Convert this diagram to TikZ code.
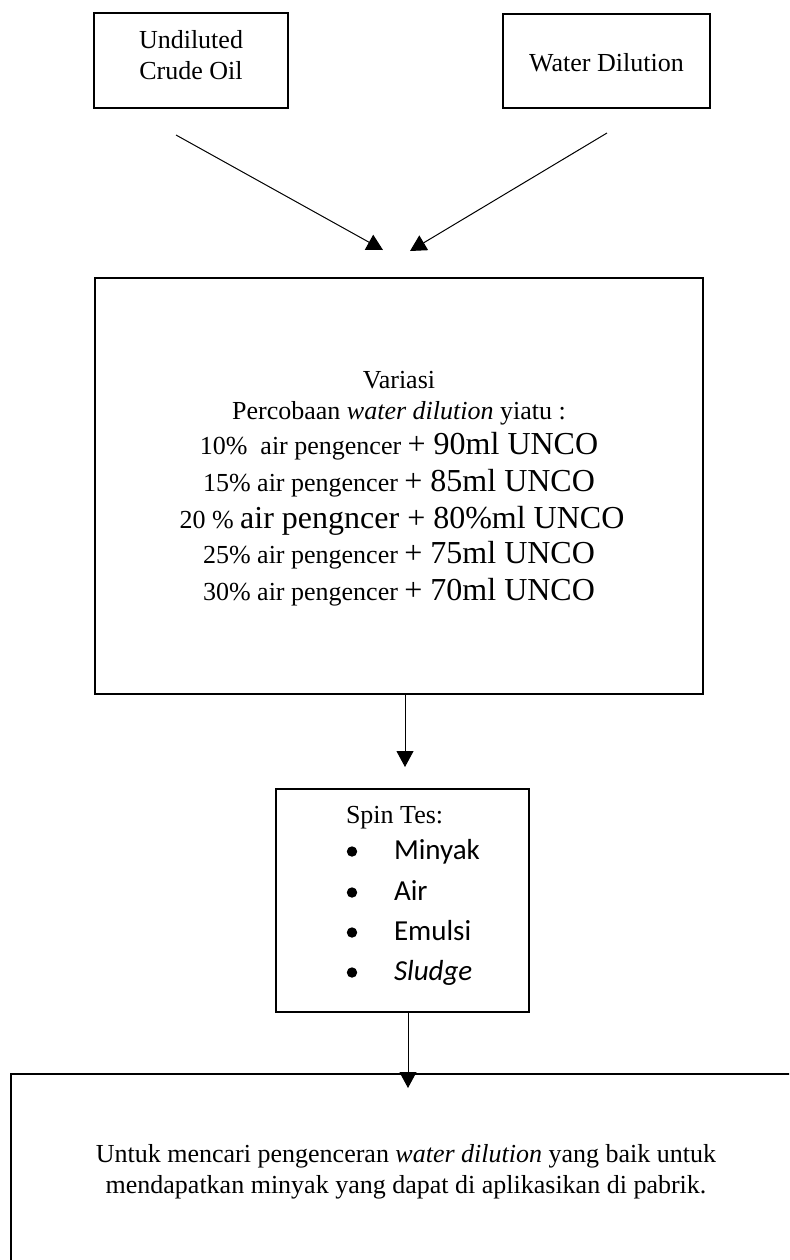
\documentclass[tikz,border=0pt]{standalone}
\usepackage{fontspec}
\setmainfont{Liberation Serif}
\newfontfamily\calibrifont{Carlito}
\usetikzlibrary{arrows.meta}
\begin{document}
\begin{tikzpicture}[x=0.5pt,y=-0.5pt,
  box/.style={draw, line width=1pt, inner sep=0pt, outer sep=0pt},
  arr/.style={line width=0.5pt, -{Triangle[length=8pt,width=8.5pt]}},
  txt/.style={anchor=base, inner sep=0pt, outer sep=0pt, font=\fontsize{13}{15.5}\selectfont},
  txtl/.style={txt, anchor=base west},
  item/.style={anchor=base west, inner sep=0pt, outer sep=0pt, font=\calibrifont\fontsize{14.5}{17}\selectfont}]
\useasboundingbox (0,0) rectangle (789,1260);
\clip (0,0) rectangle (789,1260);
\newcommand\bigtxt{\fontsize{16}{19}\selectfont}

% boxes
\node[box, minimum width=97pt, minimum height=47.5pt] (crude) at (191,60.5) {};
\node[box, minimum width=103.5pt, minimum height=47pt] (water) at (606.5,61) {};
\node[box, minimum width=304pt, minimum height=208pt] (main) at (399,486) {};
\node[box, minimum width=126.5pt, minimum height=111.5pt] (spin) at (402.5,900.5) {};
\node[box, minimum width=404.5pt, minimum height=113pt] (res) at (415.5,1187) {};

% top box texts
\node[txt] (c1) at (191,48) {Undiluted};
\node[txt] (c2) at (191,79) {Crude Oil};
\node[txt] (w1) at (606.5,71) {Water Dilution};

% main box texts
\node[txt] (m1) at (399,388) {Variasi};
\node[txt] (m2) at (399,419) {Percobaan \textit{water dilution} yiatu :};
\node[txt] (m3) at (399,454) {10\%\ \ air pengencer {\bigtxt + 90ml UNCO}};
\node[txt] (m4) at (399,491) {15\% air pengencer {\bigtxt + 85ml UNCO}};
\node[txt] (m5) at (402,528) {20 \% {\bigtxt air pengncer + 80\%ml UNCO}};
\node[txt] (m6) at (399,563) {25\% air pengencer {\bigtxt + 75ml UNCO}};
\node[txt] (m7) at (399,600) {30\% air pengencer {\bigtxt + 70ml UNCO}};

% spin box texts
\node[txtl] (s0) at (346,823) {Spin Tes:};
\node[item] (s1) at (394,859) {Minyak};
\node[item] (s2) at (394,900) {Air};
\node[item] (s3) at (394,940) {Emulsi};
\node[item] (s4) at (394,980) {\textit{Sludge}};
\foreach \yy in {859,900,940,980}
  \fill (352,\yy-7.5) circle[radius=2.6pt];

% result text
\node[txt] (r1) at (406,1162) {Untuk mencari pengenceran \textit{water dilution} yang baik untuk};
\node[txt] (r2) at (406,1193) {mendapatkan minyak yang dapat di aplikasikan di pabrik.};

% connectors
\coordinate (a1s) at (176,135);
\coordinate (a1t) at (383,250);
\coordinate (a2s) at (607,133);
\coordinate (a2t) at (410,251);
\coordinate (a3t) at (405,767);
\coordinate (a4t) at (408,1088);
\draw[arr] (a1s) -- (a1t);
\draw[arr] (a2s) -- (a2t);
\draw[arr] (main.south -| a3t) -- (a3t);
\draw[arr] (spin.south -| a4t) -- (a4t);
\end{tikzpicture}
\end{document}
